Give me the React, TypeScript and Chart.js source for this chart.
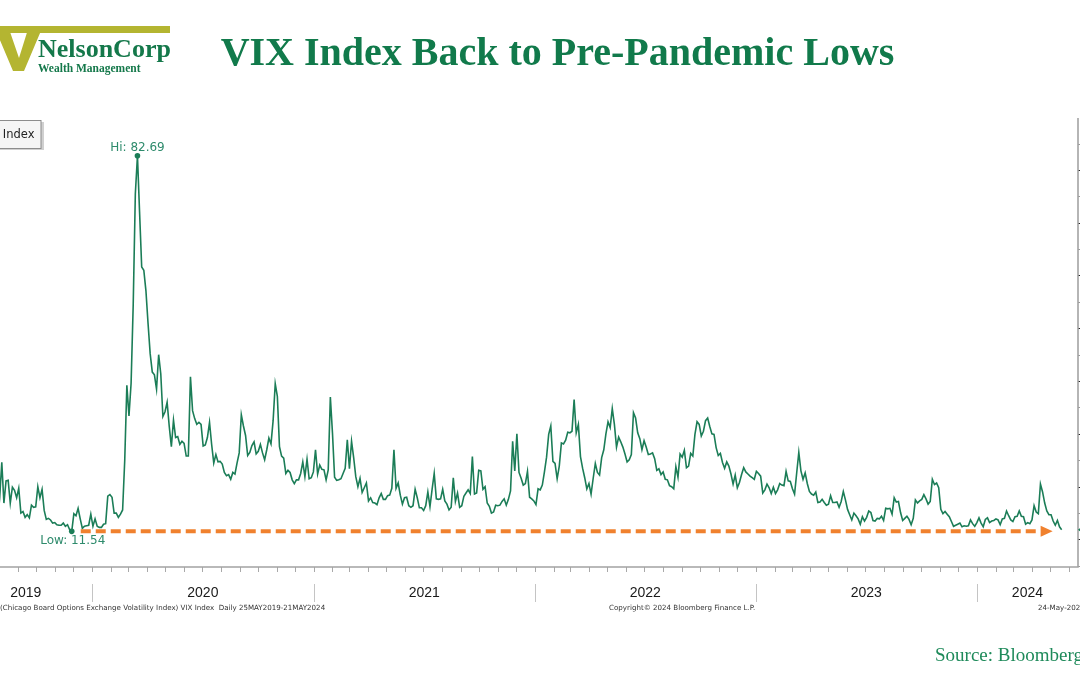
import React, { useEffect, useRef } from "react";
import { Chart, registerables } from "chart.js";

Chart.register(...registerables);

// ---- data (VIX close, sampled every 3.5 days starting Mon 27 May 2019) ----
const FIRST_DAY = -219; // days relative to 1 Jan 2020
const STEP_DAYS = 3.5;

const vix2019 = [
  17.5, 17.3, 18.9, 16.1, 15.9, 15.8, 15.4, 14.8, 15.3, 15.1,
  14.1, 12.6, 14.0, 12.9, 12.4, 13.5, 13.5, 13.7, 13.2, 17.9,
  24.6, 16.9, 21.1, 21.2, 16.9, 19.9, 19.3, 17.9, 19.7, 15.0,
  15.3, 14.2, 14.7, 14.1, 16.5, 16.1, 16.2, 20.0, 17.9, 19.5,
  15.5, 13.8, 14.0, 13.7, 13.1, 13.2, 12.8, 12.7, 12.7, 13.1,
  12.5, 12.8, 11.9, 11.54, 14.9, 14.5, 15.9, 13.9, 12.1, 12.5,
  12.6, 12.7, 14.8,
];
const vix2020 = [
  12.5, 13.9, 12.5, 12.3, 12.3, 12.9, 13.0, 18.2, 18.5,
  18.0, 15.0, 15.0, 14.2, 14.8, 15.6, 25.0, 39.2,
  33.4, 39.6, 54.5, 75.5, 82.69, 72.0, 61.6, 61.0, 57.1,
  50.9, 45.2, 41.7, 41.2, 38.5, 45.0, 41.4, 33.3, 34.2,
  36.0, 31.4, 27.6, 32.6, 29.3, 29.5, 28.0, 28.6,
  28.2, 25.8, 25.8, 40.8, 34.4, 32.9, 31.8, 32.2, 31.8,
  27.7, 27.9, 29.3, 32.2, 28.0, 24.5, 26.1, 24.7, 24.8,
  24.3, 22.7, 22.1, 22.3, 21.4, 22.7, 22.4, 24.5, 26.4,
  33.6, 31.5, 29.7, 25.9, 26.5, 27.8, 28.5, 26.2,
  26.7, 28.0, 26.4, 25.1, 27.0, 29.2, 28.1, 32.5, 39.5,
  37.1, 27.6, 25.8, 25.4, 22.5, 23.1, 22.7, 21.3, 20.6,
  21.3, 21.3, 22.5, 24.7, 21.9, 25.2, 21.5, 21.7, 22.8,
];
const vix2021 = [
  27.0, 22.4, 24.1, 23.3, 23.2, 21.3, 23.2, 37.0,
  30.2, 21.8, 21.2, 21.3, 21.5, 22.5, 23.5, 28.9,
  23.4, 28.6, 25.5, 21.9, 20.0, 21.6, 18.9, 19.8, 20.7,
  17.3, 17.9, 17.0, 16.9, 16.6, 17.9, 18.7, 17.6, 17.6,
  18.3, 18.4, 19.7, 27.0, 19.7, 20.7, 18.4, 16.7, 17.9,
  18.0, 16.4, 16.1, 16.4, 19.5, 17.9, 16.0, 16.0,
  15.5, 16.4, 19.0, 16.2, 19.5, 22.5, 17.7, 17.6, 17.7,
  19.5, 17.3, 16.7, 15.6, 16.1, 21.7, 17.2, 18.8, 16.1,
  16.4, 18.2, 18.8, 19.4, 18.7, 25.7, 18.6, 18.8, 23.1,
  23.0, 19.5, 20.0, 16.9, 16.3, 15.0, 15.2, 16.5,
  16.4, 16.5, 17.2, 17.7, 16.5, 17.6, 19.2, 28.6, 23.0,
  30.0, 22.7, 21.6, 20.3, 20.6, 22.9, 18.0, 17.7, 17.3,
];
const vix2022 = [
  16.6, 19.6, 19.4, 20.3, 22.8, 25.6, 29.9, 31.5, 24.8,
  24.4, 21.5, 23.9, 28.3, 28.1, 28.8, 30.3, 30.2,
  30.5, 36.5, 30.2, 31.8, 25.7, 23.5, 21.7, 19.6, 20.6,
  18.6, 21.6, 24.4, 22.7, 22.2, 25.5, 27.0, 30.0,
  32.3, 31.2, 34.8, 31.8, 27.5, 29.4, 28.5, 27.5, 26.2,
  24.7, 25.1, 26.1, 34.0, 33.0, 30.2, 29.1, 27.0, 28.7,
  27.5, 26.1, 26.2, 26.4, 25.3, 23.1, 23.4, 22.3,
  22.8, 21.4, 21.3, 20.2, 20.0, 19.6, 23.8, 21.8, 26.2,
  25.6, 26.9, 23.6, 23.9, 26.3, 25.8, 29.9, 32.3, 31.8,
  29.6, 30.5, 32.5, 33.0, 31.4, 30.0, 29.9, 27.4, 25.9,
  26.3, 24.6, 23.5, 24.7, 23.9, 22.4, 20.5, 22.2,
  19.8, 20.8, 22.3, 23.6, 22.8, 22.4, 22.0, 21.7, 21.4,
];
const vix2023 = [
  22.9, 22.5, 22.0, 18.8, 19.4, 20.5, 19.8, 18.7, 19.9,
  18.7, 19.4, 20.6, 20.3, 20.2, 22.9, 21.1, 21.0,
  19.6, 18.6, 22.6, 26.5, 23.0, 21.4, 22.6, 20.6, 19.1,
  18.6, 18.4, 19.0, 17.0, 17.1, 17.6, 17.0, 16.5,
  16.7, 18.3, 17.0, 17.0, 17.1, 16.1, 17.2, 19.1, 17.5,
  15.7, 14.7, 13.7, 15.0, 14.5, 13.9, 12.9, 14.3, 13.5,
  14.2, 15.4, 15.1, 13.6, 13.5, 14.0, 13.9, 14.4, 13.6,
  15.9, 15.8, 15.9, 14.8, 17.9, 17.1, 17.2, 15.1, 13.6,
  14.0, 14.4, 13.8, 12.8, 14.0, 17.5, 16.9, 17.3,
  17.6, 18.5, 17.7, 16.7, 17.2, 21.4, 20.4, 20.7, 19.8,
  15.7, 14.9, 15.3, 14.8, 14.3, 13.4, 12.5, 12.7, 12.9,
  13.1, 12.4, 12.6, 12.5, 12.6, 13.7, 13.0, 12.5,
];
const vix2024 = [
  13.2, 14.1, 13.1, 12.4, 13.8, 14.1, 13.2, 13.5, 13.6,
  13.9, 13.7, 12.8, 13.9, 14.0, 15.4, 14.5, 13.7, 13.4,
  14.3, 14.4, 15.4, 14.4, 14.3, 12.9, 13.2, 13.0,
  13.7, 16.4, 15.2, 14.9, 20.5, 19.0, 16.9, 15.4, 14.7,
  14.7, 13.5, 12.7, 13.6, 12.4, 11.86,
];

const YEARS = [2019, 2020, 2021, 2022, 2023, 2024];
const Y_TICK_STEP = 5;
const TITLE = "VIX Index Back to Pre-Pandemic Lows";
const LEGEND_LABEL = "VIX Index";
const FOOT_LEFT = "(Chicago Board Options Exchange Volatility Index) VIX Index  Daily 25MAY2019-21MAY2024";
const FOOT_MID = "Copyright\u00A9 2024 Bloomberg Finance L.P.";
const FOOT_RIGHT = "24-May-2024";
const SOURCE = "Source: Bloomberg";

// ---- layout ----
const OFF = 60; // canvas is shifted left by OFF px (plot starts off-page)
const CW = 1180;
const CH = 675;
const X_MIN = -219;
const X_MAX = 1628;
const Y_MIN = 4.79;
const Y_MAX = 89.83;

const GREEN_LINE = "#1b7d57";
const GREEN_TEXT = "#2e8b6c";
const GREEN_TITLE = "#117a4b";
const ORANGE = "#f0812e";

const dayOf = (y: number, m: number, d: number) =>
  (Date.UTC(y, m, d) - Date.UTC(2020, 0, 1)) / 86400000;

const P = (x: number) => x + OFF;

const decorPlugin = {
  id: "decor",
  beforeDatasetsDraw(chart: any) {
    const { ctx, chartArea: a, scales } = chart;
    const xs = scales.x;
    const ys = scales.y;
    ctx.save();
    // bottom axis month ticks
    ctx.strokeStyle = "#a9a9a9";
    ctx.lineWidth = 1;
    for (let yr = 2019; yr <= 2024; yr++) {
      for (let m = 0; m < 12; m++) {
        const d = dayOf(yr, m, 1);
        if (d <= X_MIN || d >= X_MAX) continue;
        const px = Math.round(xs.getPixelForValue(d)) + 0.5;
        ctx.beginPath();
        ctx.moveTo(px, a.bottom);
        ctx.lineTo(px, a.bottom + 5);
        ctx.stroke();
      }
    }
    // year separators
    ctx.strokeStyle = "#c4c4c4";
    for (const yr of YEARS.slice(1)) {
      const px = Math.round(xs.getPixelForValue(dayOf(yr, 0, 1))) + 0.5;
      ctx.beginPath();
      ctx.moveTo(px, a.bottom + 17);
      ctx.lineTo(px, a.bottom + 35);
      ctx.stroke();
    }
    // year labels
    ctx.fillStyle = "#1a1a1a";
    ctx.font = '14px "Liberation Sans", Arial, sans-serif';
    ctx.textAlign = "center";
    ctx.textBaseline = "middle";
    for (const yr of YEARS) {
      const s = Math.max(dayOf(yr, 0, 1), X_MIN);
      const e = Math.min(dayOf(yr + 1, 0, 1), X_MAX);
      const cx = (xs.getPixelForValue(s) + xs.getPixelForValue(e)) / 2;
      ctx.fillText(String(yr), cx, a.bottom + 26);
    }
    // right axis ticks
    for (let v = Y_TICK_STEP; v < Y_MAX; v += Y_TICK_STEP) {
      const py = Math.round(ys.getPixelForValue(v)) + 0.5;
      const major = v % 10 === 0;
      ctx.strokeStyle = major ? "#222" : "#9a9a9a";
      ctx.beginPath();
      ctx.moveTo(a.right, py);
      ctx.lineTo(a.right + (major ? 6 : 4), py);
      ctx.stroke();
    }
    // axis lines
    ctx.strokeStyle = "#a3a3a3";
    ctx.lineWidth = 1.6;
    ctx.beginPath();
    ctx.moveTo(a.right, a.top);
    ctx.lineTo(a.right, a.bottom);
    ctx.lineTo(a.left - 60, a.bottom);
    ctx.stroke();
    // footnotes
    ctx.fillStyle = "#333";
    ctx.textAlign = "left";
    ctx.textBaseline = "alphabetic";
    ctx.font = '7.1px "DejaVu Sans", sans-serif';
    ctx.fillText(FOOT_LEFT, P(0), a.bottom + 43);
    ctx.font = '7.1px "DejaVu Sans", sans-serif';
    ctx.fillText(FOOT_MID, P(609), a.bottom + 43);
    ctx.fillText(FOOT_RIGHT, P(1038), a.bottom + 43);
    ctx.restore();
  },
  afterDatasetsDraw(chart: any) {
    const { ctx, chartArea: a, scales, data } = chart;
    const xs = scales.x;
    const ys = scales.y;
    const pts = data.datasets[0].data as { x: number; y: number }[];
    let hi = pts[0], lo = pts[0];
    for (const p of pts) {
      if (p.y > hi.y) hi = p;
      if (p.y < lo.y) lo = p;
    }
    const last = pts[pts.length - 1];
    ctx.save();
    // orange dashed arrow at the low level
    const yLow = ys.getPixelForValue(lo.y);
    const x0 = xs.getPixelForValue(lo.x) + 9;
    const x1 = xs.getPixelForValue(last.x) - 9;
    ctx.strokeStyle = ORANGE;
    ctx.fillStyle = ORANGE;
    ctx.lineWidth = 4;
    ctx.setLineDash([10, 5]);
    ctx.beginPath();
    ctx.moveTo(x0, yLow);
    ctx.lineTo(x1 - 12, yLow);
    ctx.stroke();
    ctx.setLineDash([]);
    ctx.beginPath();
    ctx.moveTo(x1, yLow);
    ctx.lineTo(x1 - 12, yLow - 5.5);
    ctx.lineTo(x1 - 12, yLow + 5.5);
    ctx.closePath();
    ctx.fill();
    // hi / low markers
    ctx.fillStyle = GREEN_LINE;
    for (const p of [hi, lo]) {
      ctx.beginPath();
      ctx.arc(xs.getPixelForValue(p.x), ys.getPixelForValue(p.y), 2.8, 0, Math.PI * 2);
      ctx.fill();
    }
    ctx.fillStyle = GREEN_TEXT;
    ctx.font = '12px "DejaVu Sans", sans-serif';
    ctx.textAlign = "center";
    ctx.textBaseline = "alphabetic";
    ctx.fillText("Hi: " + hi.y.toFixed(2), xs.getPixelForValue(hi.x), ys.getPixelForValue(hi.y) - 5);
    ctx.textBaseline = "top";
    ctx.fillText("Low: " + lo.y.toFixed(2), xs.getPixelForValue(lo.x) + 1, ys.getPixelForValue(lo.y) + 4);
    // last value tag on the right axis
    ctx.fillStyle = GREEN_LINE;
    const yl = ys.getPixelForValue(last.y);
    ctx.beginPath();
    ctx.moveTo(a.right, yl);
    ctx.lineTo(a.right + 5, yl - 4);
    ctx.lineTo(a.right + 40, yl - 4);
    ctx.lineTo(a.right + 40, yl + 4);
    ctx.lineTo(a.right + 5, yl + 4);
    ctx.closePath();
    ctx.fill();
    ctx.restore();
  },
  afterDraw(chart: any) {
    const { ctx } = chart;
    ctx.save();
    // legend box (partly off-page)
    ctx.fillStyle = "#d0d0d0";
    ctx.fillRect(P(-50) + 2, 122, 92, 28);
    ctx.fillStyle = "#f5f5f5";
    ctx.fillRect(P(-50), 120.5, 91, 28);
    ctx.strokeStyle = "#8c8c8c";
    ctx.lineWidth = 1;
    ctx.strokeRect(P(-50) + 0.5, 120.5, 90.5, 28);
    ctx.fillStyle = "#222";
    ctx.font = '11.5px "DejaVu Sans", sans-serif';
    ctx.textAlign = "right";
    ctx.textBaseline = "middle";
    ctx.fillText(LEGEND_LABEL, P(34.5), 135);

    // title
    ctx.fillStyle = GREEN_TITLE;
    ctx.font = 'bold 40px "Liberation Serif", "Times New Roman", serif';
    ctx.textAlign = "center";
    ctx.textBaseline = "alphabetic";
    ctx.fillText(TITLE, P(557.5), 65);

    // logo
    ctx.fillStyle = "#b4b531";
    ctx.fillRect(P(0), 26, 170, 7);
    ctx.beginPath();
    ctx.moveTo(P(-6), 26);
    ctx.lineTo(P(8), 26);
    ctx.lineTo(P(19), 58);
    ctx.lineTo(P(29), 26);
    ctx.lineTo(P(43), 26);
    ctx.lineTo(P(24), 71);
    ctx.lineTo(P(13), 71);
    ctx.closePath();
    ctx.fill();
    ctx.fillStyle = "#14784a";
    ctx.textAlign = "left";
    ctx.font = 'bold 26px "Liberation Serif", "Times New Roman", serif';
    ctx.fillText("NelsonCorp", P(38), 57);
    ctx.font = 'bold 11.5px "Liberation Serif", "Times New Roman", serif';
    ctx.fillText("Wealth Management", P(38), 72);

    // source
    ctx.fillStyle = "#1e8a5a";
    ctx.font = '19px "Liberation Serif", "Times New Roman", serif';
    ctx.fillText(SOURCE, P(935), 661);
    ctx.restore();
  },
};

export default function App() {
  const ref = useRef<HTMLCanvasElement | null>(null);
  useEffect(() => {
    const all = [...vix2019, ...vix2020, ...vix2021, ...vix2022, ...vix2023, ...vix2024];
    const points = all.map((v, i) => ({ x: FIRST_DAY + i * STEP_DAYS, y: v }));
    const chart = new Chart(ref.current as HTMLCanvasElement, {
      type: "line",
      data: {
        datasets: [
          {
            label: LEGEND_LABEL,
            data: points,
            borderColor: GREEN_LINE,
            borderWidth: 1.6,
            pointRadius: 0,
            tension: 0,
          },
        ],
      },
      options: {
        responsive: false,
        animation: false,
        devicePixelRatio: 1,
        layout: { padding: { left: 19.4, right: 42, top: 118, bottom: 108 } },
        scales: {
          x: { type: "linear", min: X_MIN, max: X_MAX, display: false },
          y: { min: Y_MIN, max: Y_MAX, display: false },
        },
        plugins: { legend: { display: false }, tooltip: { enabled: false } },
      },
      plugins: [decorPlugin],
    } as any);
    return () => chart.destroy();
  }, []);
  return (
    <div
      style={{
        position: "fixed",
        left: 0,
        top: 0,
        width: 1080,
        height: 675,
        overflow: "hidden",
        background: "#fff",
      }}
    >
      <canvas
        ref={ref}
        width={CW}
        height={CH}
        style={{ position: "absolute", left: -OFF, top: 0, width: CW, height: CH }}
      />
    </div>
  );
}
